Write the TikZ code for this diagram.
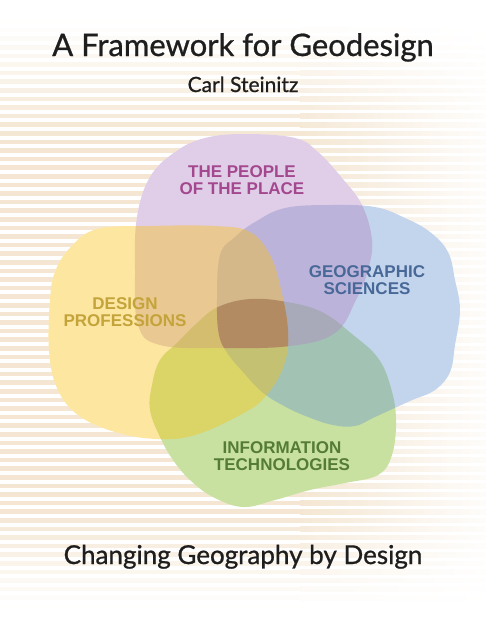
\documentclass[tikz,border=0pt]{standalone}
\usepackage{fontspec}
\setmainfont{Lato}
\newfontfamily\coverfont{Lato}[FakeBold=0.8]
\newfontfamily\labelfont{Liberation Sans}
\usetikzlibrary{positioning}
\definecolor{stripebeige}{RGB}{244,230,210}
\definecolor{placepurple}{RGB}{178,130,195}
\definecolor{designyellow}{RGB}{248,193,18}
\definecolor{geoblue}{RGB}{105,150,208}
\definecolor{infogreen}{RGB}{118,180,18}
\definecolor{corebrown}{RGB}{160,102,82}
\definecolor{placetext}{RGB}{163,72,142}
\definecolor{geotext}{RGB}{72,104,152}
\definecolor{designtext}{RGB}{196,164,58}
\definecolor{infotext}{RGB}{84,124,54}
\definecolor{titlegray}{RGB}{30,30,30}

% outlines of the four fields
\newcommand{\infoblob}{plot[smooth cycle, tension=0.65] coordinates {(152,385) (160,360)
  (178,342) (197,323) (218,307) (250,299) (287,302) (322,312) (352,334) (378,358)
  (391,388) (396,420) (392,455) (378,475) (345,483) (310,490) (275,500) (243,507)
  (213,497) (190,480) (173,460) (160,437) (150,410)}}
\newcommand{\geoblob}{plot[smooth cycle, tension=0.65] coordinates {(217,300) (220,255)
  (235,237) (255,222) (285,208) (330,205) (375,207) (405,218) (430,232) (448,252)
  (455,280) (460,310) (455,345) (450,372) (435,390) (410,401) (375,417) (355,426)
  (333,425) (308,417) (284,406) (262,392) (243,372) (228,354) (219,335)}}
\newcommand{\placeblob}{plot[smooth cycle, tension=0.65] coordinates {(137,217) (150,177)
  (175,152) (205,138) (245,134) (295,138) (318,152) (342,178) (362,205) (372,240)
  (368,270) (356,300) (335,333) (290,346) (220,348) (160,345) (138,325) (135,270)}}
\newcommand{\designblob}{plot[smooth cycle, tension=0.65] coordinates {(97,229) (150,226)
  (215,226) (250,232) (270,255) (280,285) (288,330) (284,365) (265,397) (240,415)
  (195,435) (157,439) (115,432) (78,415) (57,388) (49,350) (50,300) (55,272) (70,248)}}

\begin{document}
\begin{tikzpicture}[x=1pt, y=-1pt,
  field/.style={fill=#1, fill opacity=0.4},
  lbl/.style={font=\labelfont\bfseries\fontsize{17}{17}\selectfont, align=center, inner sep=0pt},
  cover/.style={font=\coverfont\fontsize{#1}{#1}\selectfont, text=titlegray, inner sep=0pt, anchor=base},
]
\useasboundingbox (0,0) rectangle (486,630);
\fill[white] (0,0) rectangle (486,630);

% Stripes, fading out at the top, bottom and right
\foreach \i in {0,...,72}{
  \pgfmathsetmacro{\yy}{8.6*\i+2}
  \pgfmathtruncatemacro{\sI}{100*min(1,max(0,(\yy-18)/115))*min(1,max(0,(605-\yy)/95))}
  \pgfmathtruncatemacro{\sR}{0.12*\sI}
  \fill[stripebeige!\sI!white] (0,\yy) rectangle (300,\yy+4.6);
  \shade[left color=stripebeige!\sI!white, right color=stripebeige!\sR!white]
    (300,\yy) rectangle (486,\yy+4.6);
}

% White ground under the fields
\fill[white] \infoblob;
\fill[white] \geoblob;
\fill[white] \placeblob;
\fill[white] \designblob;

% The four fields, from the bottom layer up
\fill[field=infogreen] \infoblob;
\fill[field=geoblue] \geoblob;
\fill[field=placepurple] \placeblob;
\fill[field=designyellow] \designblob;

% Where all four meet
\begin{scope}
  \clip \placeblob;
  \clip \designblob;
  \clip \geoblob;
  \fill[corebrown, fill opacity=0.5] \infoblob;
\end{scope}

% Field labels
\node[lbl, text=placetext] (place) at (242,180) {THE PEOPLE\\OF THE PLACE};
\node[lbl, text=geotext] (geo) at (367,280) {GEOGRAPHIC\\SCIENCES};
\node[lbl, text=designtext] (design) at (125,312) {DESIGN\\PROFESSIONS};
\node[lbl, text=infotext] (info) at (282,456) {INFORMATION\\TECHNOLOGIES};

% Cover texts
\node[cover=31] (title) at (243,56) {A Framework for Geodesign};
\node[cover=21] (author) at (243,92) {Carl Steinitz};
\node[cover=26] (subtitle) at (243,564) {Changing Geography by Design};
\end{tikzpicture}
\end{document}
